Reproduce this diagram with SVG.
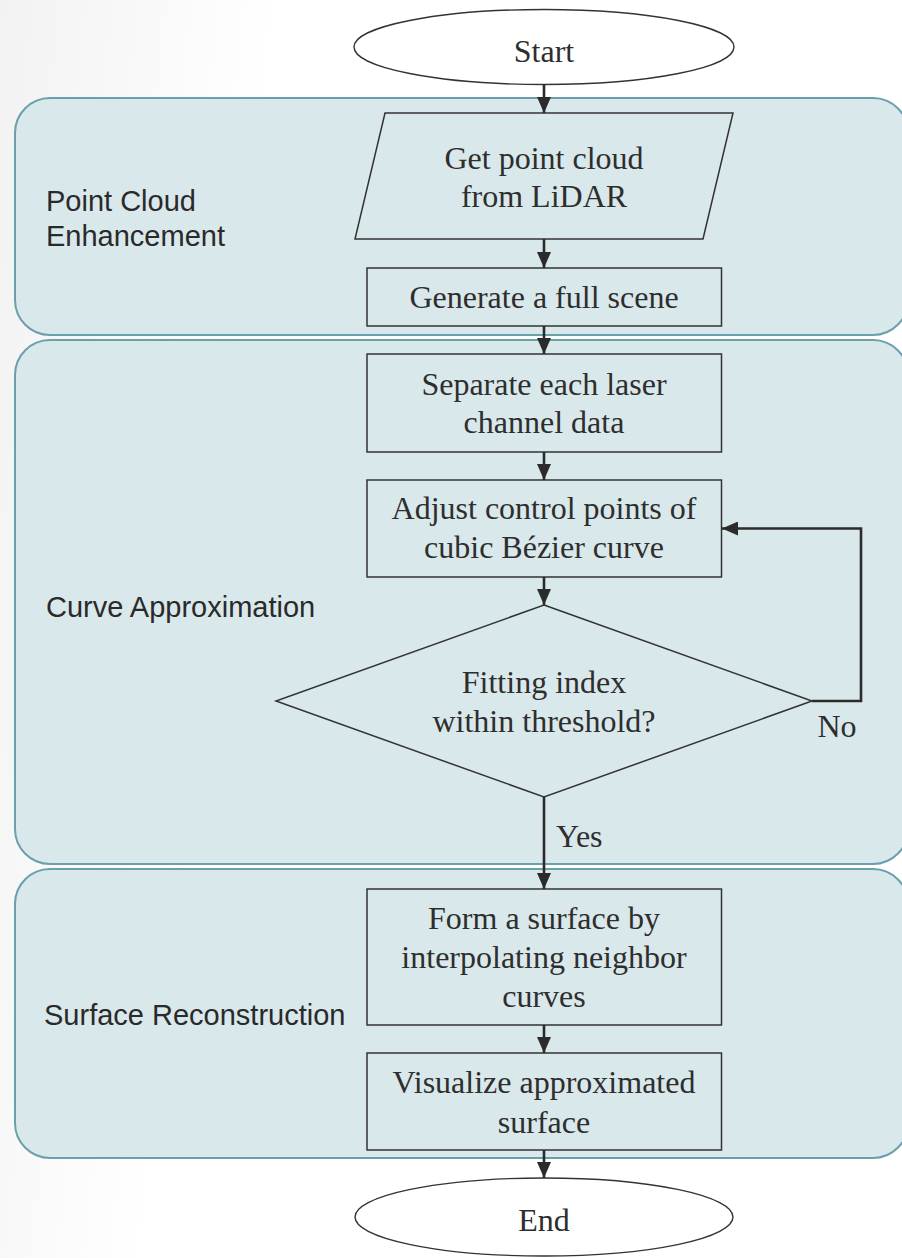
<svg xmlns="http://www.w3.org/2000/svg" width="902" height="1258" viewBox="0 0 902 1258">
  <defs>
    <linearGradient id="bg" x1="0" y1="0" x2="1" y2="0.15">
      <stop offset="0" stop-color="#f2f2f2"/>
      <stop offset="0.3" stop-color="#ffffff"/>
    </linearGradient>
    <marker id="ah" markerUnits="userSpaceOnUse" markerWidth="16" markerHeight="14" refX="16" refY="7" orient="auto" viewBox="0 0 16 14">
      <path d="M0,0 L16,7 L0,14 z" fill="#2b2b2b"/>
    </marker>
    <style>
      .panel { fill: #d9e8eb; stroke: #6a9fac; stroke-width: 2; }
      .box { fill: none; stroke: #333333; stroke-width: 1.5; }
      .term { fill: #ffffff; stroke: #333333; stroke-width: 1.4; }
      .t { font-family: "Liberation Serif", "Times New Roman", serif; font-size: 32px; fill: #2e2e2e; text-anchor: middle; }
      .lab { font-family: "Liberation Sans", Arial, sans-serif; font-size: 29px; fill: #2a2a2a; }
      .conn { fill: none; stroke: #2b2b2b; stroke-width: 2.6; }
    </style>
  </defs>
  <rect x="0" y="0" width="902" height="1258" fill="url(#bg)"/>

  <g id="panel-enhancement">
    <rect class="panel" x="15" y="98" width="893" height="237" rx="35" ry="35"/>
    <text class="lab" x="46" y="211">Point Cloud</text>
    <text class="lab" x="46" y="246">Enhancement</text>
  </g>
  <g id="panel-curve">
    <rect class="panel" x="15" y="340" width="893" height="524" rx="35" ry="35"/>
    <text class="lab" x="46" y="617">Curve Approximation</text>
  </g>
  <g id="panel-surface">
    <rect class="panel" x="15" y="869" width="893" height="289" rx="35" ry="35"/>
    <text class="lab" x="44" y="1025">Surface Reconstruction</text>
  </g>

  <g id="start">
    <ellipse class="term" cx="544" cy="47" rx="190" ry="37.5"/>
    <text class="t" x="544" y="62">Start</text>
  </g>
  <g id="get-point-cloud">
    <polygon class="box" points="385,113 733,113 703,239 355,239"/>
    <text class="t" x="544" y="169">Get point cloud</text>
    <text class="t" x="544" y="207">from LiDAR</text>
  </g>
  <g id="generate-scene">
    <rect class="box" x="367" y="268" width="354.5" height="58"/>
    <text class="t" x="544" y="308">Generate a full scene</text>
  </g>
  <g id="separate-channel">
    <rect class="box" x="367" y="354" width="354.5" height="98"/>
    <text class="t" x="544" y="395">Separate each laser</text>
    <text class="t" x="544" y="433">channel data</text>
  </g>
  <g id="adjust-control">
    <rect class="box" x="367" y="480" width="354.5" height="97"/>
    <text class="t" x="544" y="519">Adjust control points of</text>
    <text class="t" x="544" y="558">cubic Bézier curve</text>
  </g>
  <g id="fitting-decision">
    <polygon class="box" points="544,605 812,701 544,797 276,701"/>
    <text class="t" x="544" y="693">Fitting index</text>
    <text class="t" x="544" y="732">within threshold?</text>
  </g>
  <g id="form-surface">
    <rect class="box" x="367" y="889" width="354.5" height="136"/>
    <text class="t" x="544" y="929">Form a surface by</text>
    <text class="t" x="544" y="968">interpolating neighbor</text>
    <text class="t" x="544" y="1007">curves</text>
  </g>
  <g id="visualize-surface">
    <rect class="box" x="367" y="1053" width="354.5" height="97"/>
    <text class="t" x="544" y="1093">Visualize approximated</text>
    <text class="t" x="544" y="1133">surface</text>
  </g>
  <g id="end">
    <ellipse class="term" cx="544" cy="1217" rx="189" ry="39"/>
    <text class="t" x="544" y="1231">End</text>
  </g>

  <g id="connectors">
    <line class="conn" x1="544" y1="84.5" x2="544" y2="113" marker-end="url(#ah)"/>
    <line class="conn" x1="544" y1="239" x2="544" y2="268" marker-end="url(#ah)"/>
    <line class="conn" x1="544" y1="326" x2="544" y2="354" marker-end="url(#ah)"/>
    <line class="conn" x1="544" y1="452" x2="544" y2="480" marker-end="url(#ah)"/>
    <line class="conn" x1="544" y1="577" x2="544" y2="605" marker-end="url(#ah)"/>
    <polyline class="conn" points="812,701 861,701 861,528.5 722,528.5" marker-end="url(#ah)"/>
    <line class="conn" x1="544" y1="797" x2="544" y2="889" marker-end="url(#ah)"/>
    <line class="conn" x1="544" y1="1025" x2="544" y2="1053" marker-end="url(#ah)"/>
    <line class="conn" x1="544" y1="1150" x2="544" y2="1178" marker-end="url(#ah)"/>
    <text class="t" x="837" y="737">No</text>
    <text class="t" x="556" y="847" style="text-anchor:start">Yes</text>
  </g>
</svg>
